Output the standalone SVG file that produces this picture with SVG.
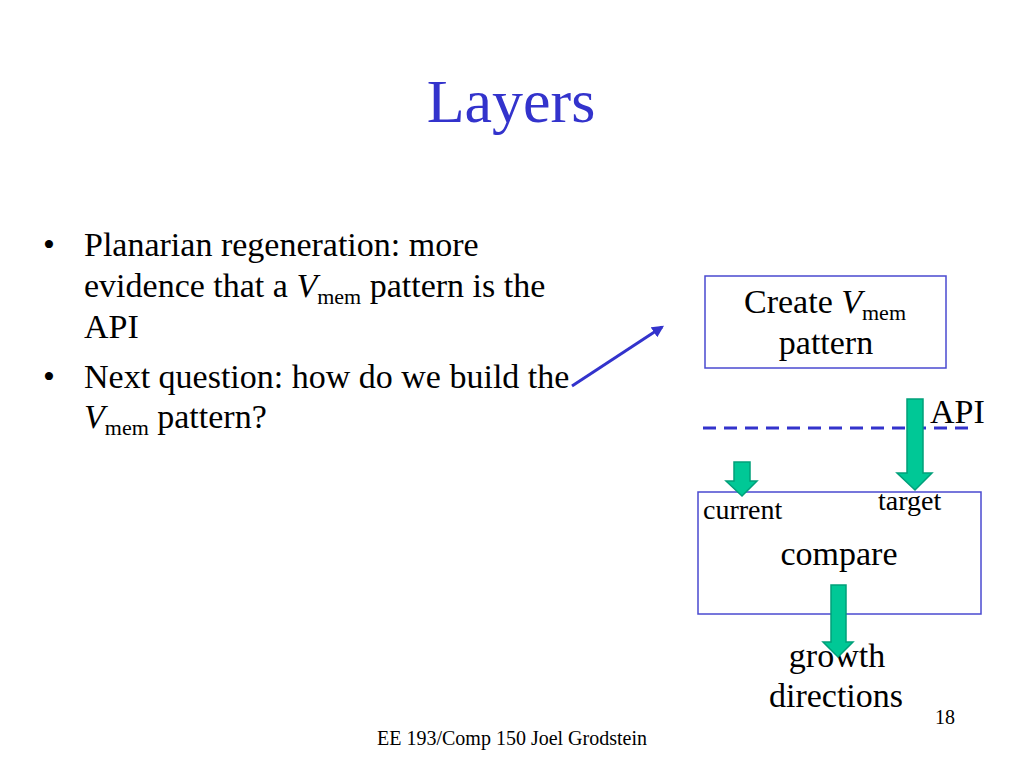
<svg xmlns="http://www.w3.org/2000/svg" width="1024" height="768" viewBox="0 0 1024 768">
<style>
text{font-family:"Liberation Serif","Times New Roman",serif;fill:#000}
.t{font-size:34px}
.b{font-size:34px}
.s{font-size:20px}
.box{fill:#fff;stroke:#4a4ad0;stroke-width:1.5}
.g{fill:#00c896;stroke:#00a07a;stroke-width:1.5}
</style>
<defs>
<marker id="ah" viewBox="0 0 10 10" refX="8" refY="5" markerWidth="4" markerHeight="4" orient="auto">
<path d="M0,0 L10,5 L0,10 z" fill="#3333cc"/>
</marker>
</defs>
<rect width="1024" height="768" fill="#fff"/>
<text x="511" y="122" text-anchor="middle" style="font-size:62px;fill:#3333cc">Layers</text>
<g id="bullets">
<text x="43" y="256" class="b">•</text>
<text x="84" y="256" class="b">Planarian regeneration: more</text>
<text x="84" y="297" class="b">evidence that a <tspan font-style="italic">V</tspan><tspan font-size="22" dy="7">mem</tspan><tspan dy="-7"> pattern is the</tspan></text>
<text x="84" y="338" class="b">API</text>
<text x="43" y="388" class="b">•</text>
<text x="84" y="388" class="b">Next question: how do we build the</text>
<text x="84" y="428" class="b"><tspan font-style="italic">V</tspan><tspan font-size="22" dy="7">mem</tspan><tspan dy="-7"> pattern?</tspan></text>
</g>
<g id="create">
<rect x="705" y="276" width="241" height="92" class="box"/>
<text x="744" y="313" class="t">Create <tspan font-style="italic">V</tspan><tspan font-size="22" dy="7">mem</tspan></text>
<text x="826" y="354" class="t" text-anchor="middle">pattern</text>
</g>
<g id="api">
<line x1="703" y1="428" x2="972" y2="428" stroke="#3333cc" stroke-width="3" stroke-dasharray="13 8"/>
<text x="930" y="423" class="t">API</text>
</g>
<g id="compare">
<rect x="698" y="492" width="283" height="122" class="box"/>
<text x="703" y="519" style="font-size:28px">current</text>
<text x="878" y="510" style="font-size:28px">target</text>
<text x="839" y="565" class="t" text-anchor="middle">compare</text>
</g>
<g id="growth">
<text x="837" y="667" class="t" text-anchor="middle">growth</text>
<text x="836" y="707" class="t" text-anchor="middle">directions</text>
</g>
<g id="connectors">
<line x1="572" y1="386" x2="662" y2="327" stroke="#3333cc" stroke-width="3" marker-end="url(#ah)"/>
<path class="g" d="M907,399 H923 V473 H932 L915,490 L897,473 H907 Z"/>
<path class="g" d="M734,462 H750 V481 H757 L742,496 L726,481 H734 Z"/>
<path class="g" d="M831,585 H846 V642 H853 L838,657 L823,642 H831 Z"/>
</g>
<text x="935" y="724" class="s">18</text>
<text x="512" y="745" class="s" text-anchor="middle">EE 193/Comp 150 Joel Grodstein</text>
</svg>
